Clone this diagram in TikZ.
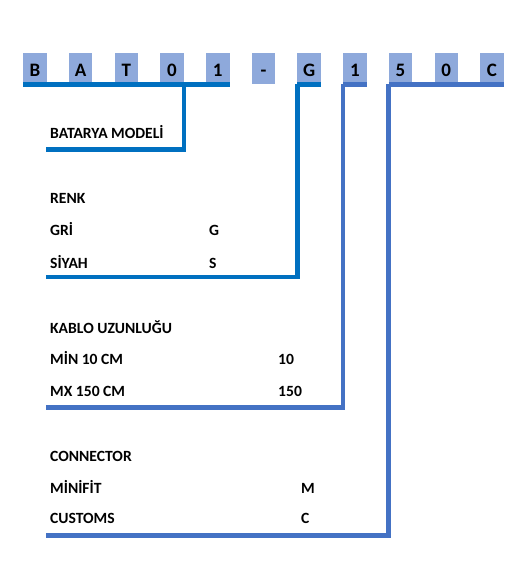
\documentclass[tikz,border=0pt]{standalone}
\usepackage{fontspec}
\setmainfont{Carlito}
\definecolor{boxblue}{HTML}{8EA9DB}
\definecolor{linedark}{HTML}{0070C0}
\definecolor{lineblue}{HTML}{4472C4}
\usetikzlibrary{positioning, calc}

\begin{document}
\begin{tikzpicture}[
        x=1pt, y=-1pt,
        letter/.style={fill=boxblue, anchor=north west, inner sep=0pt, minimum width=23.5pt, minimum height=31pt,
          text height=15.6pt, text depth=0pt, font=\fontsize{19}{19}\selectfont\bfseries},
        item/.style={anchor=base west, inner sep=0pt, font=\fontsize{15.6}{16}\selectfont\bfseries},
        bar/.style={line width=4.8pt}
      ]
      \useasboundingbox (0,0) rectangle (513,562);
      % code letters
      \foreach \ch [count=\i from 0] in {B,A,T,0,1,-,G,1,5,0,C}
        \node[letter] (c\i) at ({23+45.7*\i},53) {\ch};
      % free ends of the connectors
      \coordinate (modelend) at (46,149.5);
      \coordinate (renkend) at (46,277);
      \coordinate (kabloend) at (46,407.5);
      \coordinate (connend) at (46,535.5);
      % battery model
      \node[item] (model) at (50,138) {BATARYA MODELİ};
      % colour
      \node[item] (renk) at (50,203) {RENK};
      \node[item] (gri) at (50,235) {GRİ};
      \node[item] (siyah) at (50,268) {SİYAH};
      \node[item] (gricode) at (209,235) {G};
      \node[item] (siyahcode) at (209,268) {S};
      % cable length
      \node[item] (kablo) at (50,333) {KABLO UZUNLUĞU};
      \node[item] (min) at (50,364) {MİN 10 CM};
      \node[item] (max) at (50,396) {MX 150 CM};
      \node[item] (mincode) at (278,364) {10};
      \node[item] (maxcode) at (278,396) {150};
      % connector
      \node[item] (conn) at (50,461) {CONNECTOR};
      \node[item] (minifit) at (50,493) {MİNİFİT};
      \node[item] (custom) at (50,523) {CUSTOMS};
      \node[item] (minifitcode) at (301,493) {M};
      \node[item] (customcode) at (301,523) {C};
      % connectors
      \draw[bar, linedark] (c0.south west) -- (c4.south east);
      \draw[bar, linedark] (c3.south east) |- (modelend);
      \draw[bar, linedark] (c6.south west) -- (c6.south east);
      \draw[bar, linedark] (c6.south west) |- (renkend);
      \draw[bar, lineblue] (c7.south west) -- (c7.south east);
      \draw[bar, lineblue] (c7.south west) |- (kabloend);
      \draw[bar, lineblue] (c8.south west) -- (c10.south east);
      \draw[bar, lineblue] (c8.south west) |- (connend);
\end{tikzpicture}
\end{document}
